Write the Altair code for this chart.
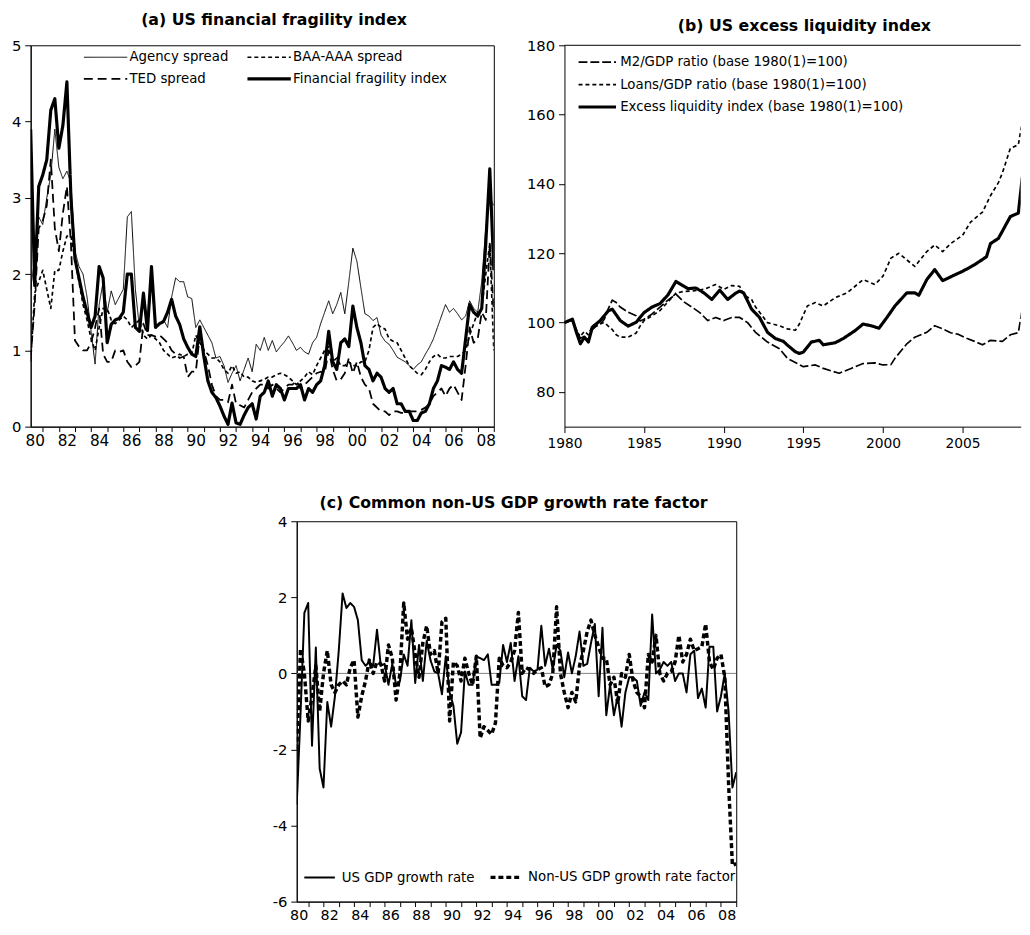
import altair as alt
import pandas as pd

FONT = "DejaVu Sans"

# ---------------- (a) US financial fragility index (quarterly, 0 = start of 1980) ----------------
a_quarter = list(range(116))
a_agency = [1.8, 2.2, 2.75, 2.65, 3.0, 3.3, 3.9, 3.4, 3.25, 3.35,
            3.2, 2.3, 2.1, 2.0, 1.7, 1.25, 0.82, 1.6, 1.9, 1.5,
            1.78, 1.6, 1.7, 1.8, 2.75, 2.82, 1.8, 1.3, 1.75, 1.25,
            1.9, 1.3, 1.35, 1.4, 1.3, 1.7, 1.95, 1.9, 1.9, 1.7,
            1.68, 1.3, 1.4, 1.3, 1.2, 1.1, 0.9, 0.92, 0.8, 0.58,
            0.7, 0.8, 0.6, 0.75, 0.9, 0.72, 1.08, 1.0, 1.17, 1.0,
            1.13, 0.98, 1.05, 1.11, 1.19, 1.1, 1.0, 1.04, 0.98, 0.95,
            1.1, 1.17, 1.35, 1.5, 1.65, 1.48, 1.6, 1.76, 1.48, 1.9,
            2.34, 2.17, 1.82, 1.48, 1.45, 1.39, 1.43, 1.2, 1.12, 1.08,
            1.0, 0.91, 0.88, 0.85, 0.8, 0.75, 0.81, 0.85, 0.95, 1.04,
            1.15, 1.3, 1.45, 1.6, 1.5, 1.55, 1.48, 1.4, 1.45, 1.65,
            1.55, 1.5, 1.9, 2.6, 3.0, 2.9]
a_baa = [0.85, 1.75, 1.9, 2.05, 1.8, 1.55, 2.05, 2.05, 2.3, 2.5,
         2.5, 2.2, 1.9, 1.6, 1.4, 1.15, 1.0, 1.3, 1.55, 1.55,
         1.4, 1.35, 1.4, 1.45, 1.4, 1.3, 1.35, 1.4, 1.2, 1.15,
         1.2, 1.15, 1.1, 1.0, 0.95, 0.9, 0.92, 0.95, 0.92, 0.95,
         0.95, 1.2, 1.1, 1.0, 0.95, 0.9, 0.9, 0.85, 0.75, 0.7,
         0.8, 0.7, 0.72, 0.65, 0.65, 0.6, 0.58, 0.6, 0.62, 0.65,
         0.65, 0.68, 0.7, 0.68, 0.65, 0.6, 0.55, 0.6, 0.65, 0.72,
         0.68, 0.8, 0.9, 1.0, 1.05, 0.85, 0.9, 0.8, 0.8, 0.85,
         0.8, 0.8, 0.85, 0.85, 1.0, 1.3, 1.35, 1.3, 1.28, 1.15,
         1.12, 1.1, 1.0, 0.9, 0.8, 0.75, 0.7, 0.68, 0.75, 0.85,
         0.92, 0.95, 0.9, 0.9, 0.92, 0.92, 0.92, 0.95, 1.0, 1.2,
         1.35, 1.5, 1.55, 2.0, 2.4, 1.0]
a_ted = [0.9, 1.6, 2.6, 2.7, 2.9, 3.5, 2.6, 2.3, 2.8, 3.15,
         2.4, 1.13, 1.05, 1.0, 1.0, 1.1, 1.3, 1.55, 0.95, 0.85,
         0.85, 1.0, 0.98, 1.0, 0.85, 0.78, 0.8, 0.85, 1.35, 1.2,
         1.2, 1.18, 1.2, 1.15, 1.1, 1.0, 0.95, 0.9, 0.92, 0.65,
         0.72, 0.72, 1.2, 1.0, 0.8, 0.55, 0.4, 0.35, 0.35, 0.32,
         0.55, 0.3, 0.28, 0.25, 0.35, 0.45, 0.5, 0.55, 0.55, 0.5,
         0.55, 0.5, 0.45, 0.5, 0.55, 0.55, 0.6, 0.5, 0.55, 0.6,
         0.65, 0.7, 0.72, 0.7, 1.0, 0.75, 0.6, 0.62, 0.7, 0.9,
         0.7, 0.85, 0.65, 0.55, 0.5, 0.3, 0.25, 0.2, 0.2, 0.15,
         0.2, 0.2, 0.18, 0.18, 0.2, 0.2, 0.2, 0.22, 0.25, 0.3,
         0.4, 0.45, 0.5, 0.4, 0.5, 0.55, 0.45, 0.35, 0.8, 1.3,
         1.1, 1.15, 1.5, 1.4, 2.4, 1.5]
a_ffi = [3.9, 1.85, 3.15, 3.3, 3.5, 4.15, 4.3, 3.65, 3.95, 4.52,
         3.0, 2.2, 1.95, 1.7, 1.5, 1.3, 1.45, 2.1, 1.95, 1.1,
         1.34, 1.4, 1.42, 1.5, 2.0, 2.0, 1.3, 1.25, 1.75, 1.26,
         2.1, 1.3, 1.35, 1.38, 1.5, 1.67, 1.45, 1.34, 1.15, 1.04,
         0.95, 0.92, 1.31, 0.92, 0.6, 0.45, 0.38, 0.27, 0.14, 0.03,
         0.31, 0.05, 0.03, 0.15, 0.25, 0.3, 0.1, 0.4, 0.45, 0.6,
         0.4, 0.55, 0.5, 0.35, 0.5, 0.5, 0.5, 0.55, 0.35, 0.5,
         0.45, 0.55, 0.6, 0.8, 1.25, 0.85, 0.75, 1.1, 1.15, 1.05,
         1.58, 1.3, 1.1, 0.8, 0.75, 0.6, 0.7, 0.65, 0.5, 0.45,
         0.5, 0.3, 0.3, 0.2, 0.2, 0.08, 0.08, 0.18, 0.2, 0.3,
         0.5, 0.6, 0.8, 0.78, 0.75, 0.85, 0.75, 0.7, 1.15, 1.6,
         1.5, 1.45, 1.55, 2.4, 3.38, 2.05]
a_names = ["Agency spread", "BAA-AAA spread", "TED spread", "Financial fragility index"]

# ---------------- (b) US excess liquidity index (quarter index, 0 = 1980Q1) ----------------
b_m2_q = [0, 2, 3, 4, 5, 6, 7, 8, 9, 10, 11, 12, 13, 14, 16, 18, 19, 20, 22, 24,
          26, 28, 30, 32, 34, 36, 38, 40, 42, 44, 46, 48, 51, 54, 56, 60, 63, 65, 69, 72,
          75, 78, 80, 82, 83, 86, 88, 91, 93, 95, 97, 99, 101, 103, 105, 107, 110, 112, 114, 115]
b_m2 = [100, 100.8, 98, 95.5, 96, 95, 98, 99, 99.5, 101, 104, 106.5, 105.8, 104.5, 103, 102, 100.5, 101, 102.5, 104.5,
        106.5, 108.2, 106, 104.5, 102.9, 100.6, 101.5, 100.6, 101.5, 101.5, 100, 97.2, 94.4, 92.5, 89.7, 87.3, 87.8, 86.8, 85.4, 86.8,
        88.2, 88.4, 87.8, 87.9, 89.7, 93.9, 95.8, 97.2, 99.1, 98.2, 97.1, 96.6, 95.5, 94.6, 93.6, 94.9, 94.6, 96.5, 97.1, 104]
b_loans_q = [0, 2, 3, 4, 5, 6, 7, 8, 10, 11, 12, 13, 14, 16, 18, 19, 20, 22, 24, 26,
             28, 30, 32, 35, 38, 40, 42, 44, 45, 47, 48, 51, 54, 56, 58, 59, 61, 63, 65, 68,
             71, 73, 75, 78, 80, 82, 84, 86, 88, 91, 93, 95, 97, 100, 102, 105, 107, 109, 110, 112,
             114, 115]
b_loans = [100, 100.5, 97.5, 96, 97.5, 96.5, 99, 99.5, 100, 99, 98, 96.5, 95.8, 95.8, 97, 99, 100.6, 102, 103.5, 106,
           108.5, 109, 109.1, 109.6, 111, 109.6, 110.7, 110.5, 108, 106.7, 104.5, 100, 99.1, 98.2, 97.8, 99.6, 104.8, 105.8, 104.8, 107.2,
           108.6, 110.5, 112.4, 111, 113.4, 118.6, 120, 118.1, 116.2, 120.5, 122.4, 120.5, 122.8, 125.2, 129, 131.9, 136.6, 140.4, 143.2, 150.3,
           151.3, 158]
b_el_q = [0, 2, 3, 4, 5, 6, 7, 9, 11, 12, 14, 16, 18, 20, 22, 24, 26, 28, 30, 31,
          33, 35, 37, 39, 41, 43, 44, 45, 47, 49, 51, 53, 55, 56, 58, 59, 60, 62, 64, 65,
          68, 70, 73, 75, 77, 79, 81, 83, 86, 88, 89, 91, 93, 95, 97, 99, 100, 103, 106, 107,
          109, 112, 114, 115]
b_el = [100, 101, 97.2, 93.9, 95.8, 94.4, 98.7, 100.6, 103.4, 103.9, 100.6, 99, 100.1, 102.9, 104.5, 105.5, 108, 111.9, 110.5, 109.8,
        110, 108.6, 106.7, 109.4, 106.7, 108.5, 109.1, 108.6, 103.9, 101.5, 97.2, 95.4, 94.6, 93.5, 91.6, 91.1, 91.5, 94.4, 94.9, 93.6,
        94.2, 95.4, 97.7, 99.6, 99.1, 98.4, 101.5, 104.8, 108.6, 108.6, 107.9, 112.4, 115.3, 112.1, 113.2, 114.3, 114.8, 116.7, 119, 122.8,
        124.3, 130.6, 131.6, 142]
b_names = ["M2/GDP ratio (base 1980(1)=100)", "Loans/GDP ratio (base 1980(1)=100)",
           "Excess liquidity index (base 1980(1)=100)"]
b_year_ticks = [1980, 1985, 1990, 1995, 2000, 2005]
b_frame_top = [180]

# ---------------- (c) Common non-US GDP growth rate factor ----------------
c_quarter = list(range(116))
c_us = [-3.45, -1.05, 1.59, 1.85, -1.9, 0.68, -2.5, -3.0, -0.75, -1.4,
        -0.6, 0.6, 2.1, 1.72, 1.85, 1.75, 1.4, 0.35, 0.2, 0.3,
        0.2, 1.15, 0.2, 0.25, -0.3, 0.25, -0.3, -0.2, 0.5, 0.2,
        1.4, -0.25, 0.75, -0.2, 0.85, 0.35, 0.05, 0.0, -0.55, 0.45,
        -0.5, -0.85, -1.85, -1.55, 0.05, -0.3, -0.3, 0.45, 0.4, 0.35,
        0.5, -0.3, -0.3, -0.25, 0.75, 0.3, 0.8, -0.2, 0.45, -0.6,
        -0.7, 0.15, 0.05, 0.1, 1.25, 0.2, 0.65, 0.1, 0.75, 0.6,
        -0.1, 0.55, 0.0, 0.45, 1.1, 0.2, 0.25, 0.8, 1.3, -0.6,
        1.2, -1.1, -0.3, -1.1, -0.6, -1.4, -0.5, -0.1, -0.1, -0.2,
        -0.85, -0.5, -0.7, 1.55, 0.0, 0.1, 0.3, 0.2, 0.3, -0.2,
        0.0, 0.0, -0.5, 0.5, 0.6, -0.65, -0.4, -0.9, 0.7, 0.7,
        -1.0, -0.6, 0.0, -1.0, -3.0, -2.6]
c_nonus = [-2.0, 0.65, 0.0, -1.25, -0.6, 0.2, -1.0, 0.0, 0.6, -0.3,
           -0.5, -0.3, -0.2, -0.3, 0.15, 0.35, -1.15, -0.6, -0.2, 0.35,
           0.0, 0.3, 0.25, -0.2, 0.75, 0.4, -0.7, 0.0, 1.85, 0.9,
           1.2, 0.5, -0.1, 0.8, 1.25, 0.5, 0.6, 0.0, 1.35, 1.45,
           -1.25, 0.3, 0.2, -0.2, 0.4, 0.0, -0.3, 0.45, -1.7, -1.4,
           -1.5, -1.6, -1.3, 0.4, 0.2, 0.15, 0.3, 0.6, 1.6, 0.0,
           0.15, 0.1, 0.0, 0.1, 0.15, -0.35, -0.3, 0.0, 1.75, 0.0,
           -0.5, -0.9, -0.5, -0.75, 0.2, 0.6, 1.1, 1.4, 1.0, 0.7,
           0.4, 0.4, -0.3, -0.1, -0.8, 0.0, -0.1, 0.5, -0.2, -0.5,
           -0.6, -0.9, 0.5, 0.3, 1.0, 0.0, -0.2, 0.0, 0.05, 0.3,
           1.0, 0.3, 0.5, 0.9, 0.6, 0.65, 0.7, 1.3, 0.3, 0.1,
           0.4, 0.5, -0.1, -2.9, -5.05, -5.0]
c_names = ["US GDP growth rate", "Non-US GDP growth rate factor"]
c_zero = [0]


def long_frame(qs, vals, names, field):
    rows = []
    for q, v, n in zip(qs, vals, names):
        for t, y in zip(q, v):
            rows.append({"t": t, "value": y, field: n})
    return pd.DataFrame(rows)


df_a = long_frame([a_quarter] * 4, [a_agency, a_baa, a_ted, a_ffi], a_names, "sa")
df_b = long_frame([b_m2_q, b_loans_q, b_el_q], [b_m2, b_loans, b_el], b_names, "sb")
df_c = long_frame([c_quarter] * 2, [c_us, c_nonus], c_names, "sc")

ax_common = dict(labelFont=FONT, labelColor="black", domainColor="black", tickColor="black",
                 grid=False, title=None, labelFlush=False, labelOverlap=False)

# year-tick label expression for the quarterly panels (ticks at year boundaries)
yr_expr = ("((datum.value - 3) / 4) % 2 == 0 ? "
           "slice('0' + ((1980 + (datum.value - 3) / 4) % 100), -2) : ''")
year_tick_values = [3 + 4 * k for k in range(29)]


def layers(df, field, names, dashes, widths, x, y, legend):
    out = []
    for n, w in zip(names, widths):
        out.append(
            alt.Chart(df).transform_filter(alt.datum[field] == n)
            .mark_line(color="black", strokeWidth=w, clip=True, strokeJoin="round")
            .encode(x=x, y=y,
                    strokeDash=alt.StrokeDash(f"{field}:N",
                                              scale=alt.Scale(domain=names, range=dashes),
                                              legend=legend))
        )
    return out


def width_expr(names, widths):
    # per-entry stroke width of the legend samples
    parts = [f"datum.value == '{n}' ? {w} : " for n, w in zip(names[:-1], widths[:-1])]
    return "".join(parts) + str(widths[-1])


def sample_legend(names, widths, sample_len, **kw):
    return alt.Legend(title=None, orient="none", symbolType="stroke",
                      symbolSize=sample_len * sample_len, symbolStrokeColor="black",
                      symbolStrokeWidth=alt.ExprRef(width_expr(names, widths)),
                      labelFont=FONT, labelFontSize=13.5, labelColor="black",
                      padding=0, labelLimit=600, **kw)


# ---------- panel (a) ----------
a_widths = [1.0, 1.7, 1.8, 3.2]
x_a = alt.X("t:Q", scale=alt.Scale(domain=[0, 115], nice=False, zero=False),
            axis=alt.Axis(values=year_tick_values, labelExpr=yr_expr, labelOffset=-8.2,
                          tickSize=5, labelPadding=2, labelFontSize=15.5, **ax_common))
y_a = alt.Y("value:Q", scale=alt.Scale(domain=[0, 5], nice=False),
            axis=alt.Axis(values=[0, 1, 2, 3, 4, 5], labelExpr="'' + datum.value",
                          tickSize=6, labelPadding=4, labelFontSize=15, **ax_common))
legend_a = sample_legend(a_names, a_widths, 44, legendX=53, legendY=5, columns=2,
                         direction="horizontal", symbolOffset=16.25, labelOffset=17.5,
                         columnPadding=12, rowPadding=7.3)
chart_a = alt.layer(*layers(df_a, "sa", a_names, [[1, 0], [4, 3], [9, 5], [1, 0]],
                            a_widths, x_a, y_a, legend_a)).properties(
    width=470, height=387,
    title=alt.TitleParams("(a) US financial fragility index", offset=11, dx=12),
    view=alt.ViewBackground(stroke="black", strokeWidth=1))

# ---------- panel (b) ----------
b_widths = [1.7, 1.7, 3.2]
x_b = alt.X("t:Q", scale=alt.Scale(domain=[0, 114.6], nice=False, zero=False),
            axis=alt.Axis(values=[4 * (yr - 1980) for yr in b_year_ticks],
                          labelExpr="'' + (1980 + datum.value / 4)",
                          tickSize=6, labelPadding=4, labelFontSize=14, **ax_common))
y_b = alt.Y("value:Q", scale=alt.Scale(domain=[70, 180], nice=False, zero=False),
            axis=alt.Axis(values=[80, 100, 120, 140, 160, 180],
                          tickSize=6, labelPadding=4, labelFontSize=15, **ax_common))
legend_b = sample_legend(b_names, b_widths, 38, legendX=14.3, legendY=10.3, columns=1,
                         direction="vertical", symbolOffset=12.25, labelOffset=16.5,
                         rowPadding=7.8)
frame_b = alt.Chart(pd.DataFrame({"top": b_frame_top})).mark_rule(
    color="black", strokeWidth=1).encode(y=alt.Y("top:Q"))
chart_b = alt.layer(frame_b, *layers(df_b, "sb", b_names, [[9, 3], [4, 3], [1, 0]],
                                     b_widths, x_b, y_b, legend_b)).properties(
    width=463, height=387,
    title=alt.TitleParams("(b) US excess liquidity index", offset=4.9, dx=12))

# ---------- panel (c) ----------
c_widths = [2.0, 3.5]
x_c = alt.X("t:Q", scale=alt.Scale(domain=[0, 115], nice=False, zero=False),
            axis=alt.Axis(values=year_tick_values, labelExpr=yr_expr, labelOffset=-9.7,
                          tickSize=5, labelPadding=2, labelFontSize=14.5, **ax_common))
y_c = alt.Y("value:Q", scale=alt.Scale(domain=[-6, 4], nice=False, zero=False),
            axis=alt.Axis(values=[-6, -4, -2, 0, 2, 4], labelExpr="'' + datum.value",
                          tickSize=6, labelPadding=4, labelFontSize=15, **ax_common))
legend_c = sample_legend(c_names, c_widths, 31, legendX=6.7, legendY=354.5, columns=2,
                         direction="horizontal", symbolOffset=9.75, labelOffset=15.8,
                         columnPadding=9)
zero_c = alt.Chart(pd.DataFrame({"zero": c_zero})).mark_rule(
    color="#7f7f7f", strokeWidth=1).encode(y=alt.Y("zero:Q"))
chart_c = alt.layer(zero_c, *layers(df_c, "sc", c_names, [[1, 0], [5, 3]], c_widths,
                                    x_c, y_c, legend_c)).properties(
    width=446, height=386,
    title=alt.TitleParams("(c) Common non-US GDP growth rate factor", offset=3.8, dx=-3),
    view=alt.ViewBackground(stroke="black", strokeWidth=1))

spacer = alt.Chart(pd.DataFrame({"s": [0]})).mark_point(opacity=0).properties(
    width=244, height=10)

top_row = alt.hconcat(chart_a, chart_b, spacing=29.7).resolve_scale(strokeDash="independent")
bottom_row = alt.hconcat(spacer, chart_c, spacing=0).resolve_scale(strokeDash="independent")

chart = alt.vconcat(top_row, bottom_row, spacing=44).resolve_scale(
    strokeDash="independent"
).properties(
    padding={"left": 2, "top": -4, "right": 0, "bottom": 4}
).configure_view(stroke=None).configure_title(
    font=FONT, fontSize=16, fontWeight="bold", color="black", anchor="middle", baseline="bottom"
)

chart.save("out.html", embed_options={"renderer": "svg", "actions": False})
